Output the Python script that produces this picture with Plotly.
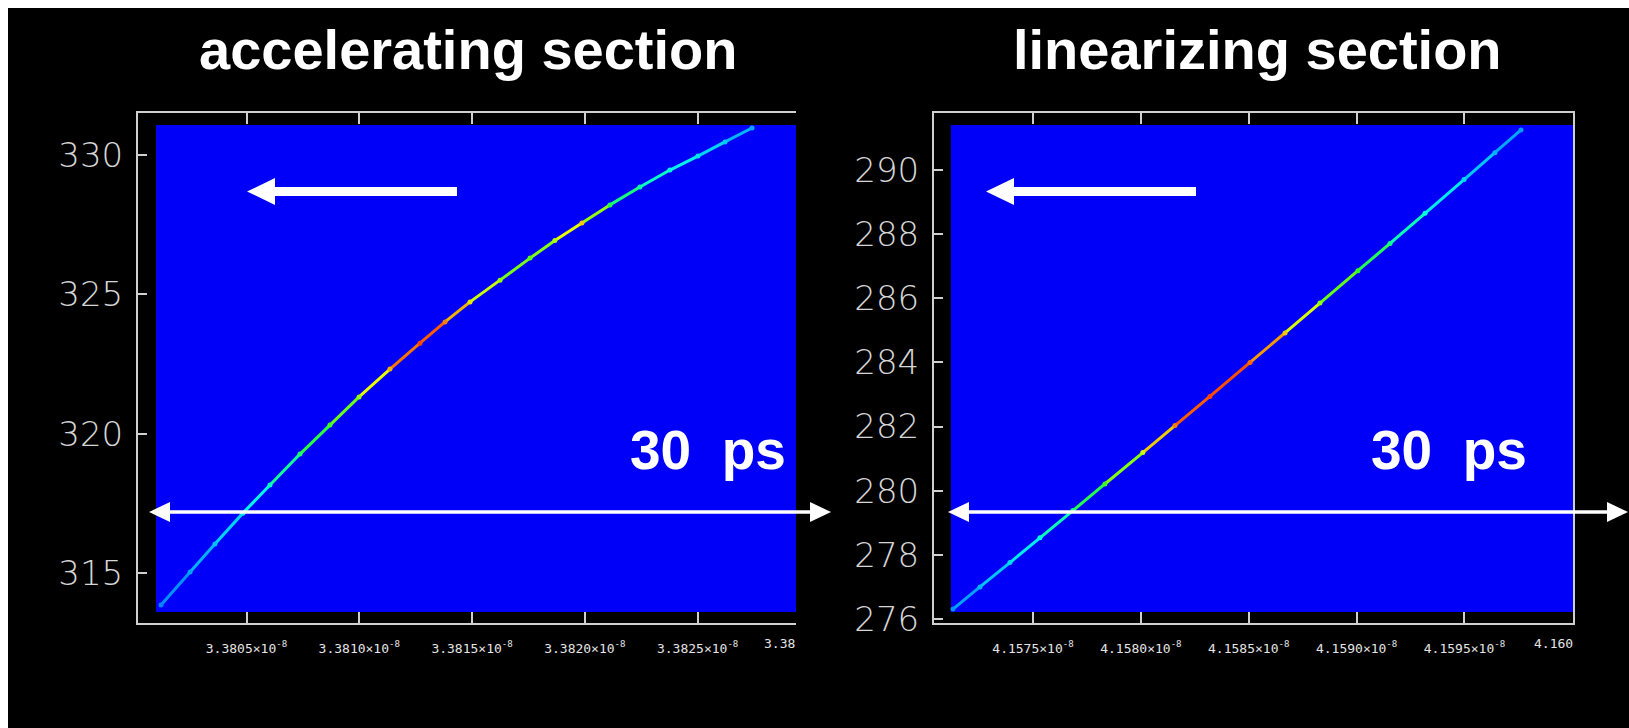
import plotly.graph_objects as go
from plotly.colors import sample_colorscale

W, H = 1629, 728

# ---- accelerating section: arrival time (units of 1e-8 s) vs energy (MeV)
acc_t = [3.380121, 3.380250, 3.380360, 3.380484, 3.380604, 3.380737, 3.380870,
         3.380999, 3.381136, 3.381269, 3.381380, 3.381491, 3.381624, 3.381757,
         3.381867, 3.381987, 3.382111, 3.382244, 3.382377, 3.382501, 3.382621,
         3.382741]
acc_e = [313.85, 315.04, 316.04, 317.15, 318.16, 319.27, 320.31, 321.32, 322.32,
         323.25, 324.01, 324.73, 325.51, 326.30, 326.93, 327.56, 328.21, 328.85,
         329.46, 329.96, 330.47, 330.97]
acc_density = [0.22, 0.27, 0.32, 0.38, 0.44, 0.50, 0.56, 0.62, 0.74, 0.84, 0.78,
               0.70, 0.62, 0.58, 0.64, 0.72, 0.52, 0.46, 0.42, 0.38, 0.33, 0.28]

# ---- linearizing section
lin_t = [4.157129, 4.157254, 4.157393, 4.157532, 4.157685, 4.157833, 4.158009,
         4.158158, 4.158320, 4.158506, 4.158668, 4.158830, 4.159006, 4.159155,
         4.159317, 4.159498, 4.159641, 4.159762]
lin_e = [276.31, 277.00, 277.76, 278.53, 279.38, 280.21, 281.19, 282.03, 282.94,
         284.00, 284.92, 285.85, 286.86, 287.71, 288.65, 289.70, 290.54, 291.25]
lin_density = [0.24, 0.30, 0.36, 0.42, 0.48, 0.56, 0.66, 0.78, 0.84, 0.80, 0.72,
               0.62, 0.55, 0.48, 0.42, 0.36, 0.30, 0.26]

# ---- axis ticks
acc_xticks = [3.3805, 3.3810, 3.3815, 3.3820, 3.3825, 3.3830]
acc_xlabels = ["3.3805×10<sup>-8</sup>", "3.3810×10<sup>-8</sup>", "3.3815×10<sup>-8</sup>",
               "3.3820×10<sup>-8</sup>", "3.3825×10<sup>-8</sup>", ""]
acc_yticks = [315, 320, 325, 330]
lin_xticks = [4.1575, 4.1580, 4.1585, 4.1590, 4.1595, 4.1600]
lin_xlabels = ["4.1575×10<sup>-8</sup>", "4.1580×10<sup>-8</sup>", "4.1585×10<sup>-8</sup>",
               "4.1590×10<sup>-8</sup>", "4.1595×10<sup>-8</sup>", ""]
lin_yticks = [276, 278, 280, 282, 284, 286, 288, 290]

# axis windows and histogram extents (data units)
acc_xrange, acc_yrange = [3.380019, 3.382936], [313.208, 331.507]
acc_hist = dict(x0=3.380099, x1=3.382940, y0=313.602, y1=331.076)
lin_xrange, lin_yrange = [4.157041, 4.160003], [275.875, 291.777]
lin_hist = dict(x0=4.157119, x1=4.160010, y0=276.218, y1=291.403)

BEAM_SCALE = [[0.0, "#0000ff"], [0.30, "#00b4ff"], [0.42, "#00ffe0"],
              [0.55, "#30ff20"], [0.68, "#e8ff00"], [0.82, "#ff5000"], [1.0, "#e00000"]]

FRAME = "#cfcfcf"
BLUE = "#0000f8"


def px(x):
    return x / W


def py(y):
    return 1 - y / H


fig = go.Figure()


def add_beam(t, e, dens, xa, ya):
    for i in range(len(t) - 1):
        c = sample_colorscale(BEAM_SCALE, [(dens[i] + dens[i + 1]) / 2])[0]
        fig.add_trace(go.Scatter(x=t[i:i + 2], y=e[i:i + 2], mode="lines",
                                 line=dict(color=c, width=3),
                                 xaxis=xa, yaxis=ya, hoverinfo="skip",
                                 showlegend=False))
    fig.add_trace(go.Scatter(x=t, y=e, mode="markers",
                             marker=dict(color=dens, colorscale=BEAM_SCALE, cmin=0, cmax=1,
                                         size=5, line=dict(width=0)),
                             xaxis=xa, yaxis=ya, hoverinfo="skip", showlegend=False))


add_beam(acc_t, acc_e, acc_density, "x", "y")
add_beam(lin_t, lin_e, lin_density, "x2", "y2")

xfont = dict(family="DejaVu Sans Mono", size=13, color="#e4e4e4")
yfont = dict(family="DejaVu Sans", size=34, color="#d6d6d6", weight=200)

common_x = dict(ticks="inside", ticklen=11, tickwidth=1.5, tickcolor=FRAME,
                showline=True, linecolor=FRAME, linewidth=2, mirror="ticks",
                showgrid=False, zeroline=False, tickfont=xfont, automargin=False,
                ticklabelstandoff=12, fixedrange=True)
common_y = dict(ticks="inside", ticklen=9, tickwidth=1.5, tickcolor=FRAME,
                showline=True, linecolor=FRAME, linewidth=2, automargin=False,
                showgrid=False, zeroline=False, tickfont=yfont,
                ticklabelstandoff=6, fixedrange=True)

ydom = [py(623), py(113)]
fig.update_layout(
    width=W, height=H,
    margin=dict(l=0, r=0, t=0, b=0, pad=0, autoexpand=False),
    paper_bgcolor="white", plot_bgcolor="black",
    showlegend=False,
    xaxis=dict(domain=[px(138), px(796)], range=acc_xrange, tickvals=acc_xticks,
               ticktext=acc_xlabels, anchor="y", **common_x),
    yaxis=dict(domain=ydom, range=acc_yrange, tickvals=acc_yticks, anchor="x",
               mirror=False, **common_y),
    xaxis2=dict(domain=[px(934), px(1573)], range=lin_xrange, tickvals=lin_xticks,
                ticktext=lin_xlabels, anchor="y2", **common_x),
    yaxis2=dict(domain=ydom, range=lin_yrange, tickvals=lin_yticks, anchor="x2",
                mirror=True, **common_y),
)

shapes = [
    # black slide background
    dict(type="rect", xref="paper", yref="paper", x0=px(8), x1=1, y0=0, y1=py(8),
         fillcolor="black", line=dict(width=0), layer="below"),
    dict(type="rect", xref="x", yref="y", **acc_hist, fillcolor=BLUE,
         line=dict(width=0), layer="below"),
    dict(type="rect", xref="x2", yref="y2", **lin_hist, fillcolor=BLUE,
         line=dict(width=0), layer="below"),
]


def poly(points):
    d = "M " + " L ".join(f"{px(a):.5f},{py(b):.5f}" for a, b in points) + " Z"
    return dict(type="path", path=d, xref="paper", yref="paper",
                fillcolor="white", line=dict(width=0), layer="above")


def big_arrow(tip, tail, yc):
    hl, hw, sw = 28, 13.5, 4.5
    return poly([(tip, yc), (tip + hl, yc - hw), (tip + hl, yc - sw), (tail, yc - sw),
                 (tail, yc + sw), (tip + hl, yc + sw), (tip + hl, yc + hw)])


def span_arrow(x0, x1, yc):
    hl, hw, sw = 21, 10, 1.8
    return poly([(x0, yc), (x0 + hl, yc - hw), (x0 + hl, yc - sw), (x1 - hl, yc - sw),
                 (x1 - hl, yc - hw), (x1, yc), (x1 - hl, yc + hw), (x1 - hl, yc + sw),
                 (x0 + hl, yc + sw), (x0 + hl, yc + hw)])


shapes += [big_arrow(247, 457, 191.5), big_arrow(986, 1196, 191.5),
           span_arrow(149, 831, 512), span_arrow(948, 1628, 512)]
fig.update_layout(shapes=shapes)

title_font = dict(family="Liberation Sans, Arial, sans-serif", size=56, color="white",
                  weight="bold")
ann = [
    dict(text="accelerating section", x=px(468), y=py(50), font=title_font),
    dict(text="linearizing section", x=px(1257), y=py(50), font=title_font),
    dict(text="30\u00a0\u00a0ps", x=px(708), y=py(450), font=dict(title_font, size=55)),
    dict(text="30\u00a0\u00a0ps", x=px(1449), y=py(450), font=dict(title_font, size=55)),
    dict(text="3.38", x=px(797), y=py(643), xanchor="right", font=xfont),
    dict(text="4.160", x=px(1575), y=py(643), xanchor="right", font=xfont),
]
for a in ann:
    a.setdefault("xanchor", "center")
    a.update(xref="paper", yref="paper", yanchor="middle", showarrow=False)
fig.update_layout(annotations=ann)

fig.write_html("out.html")
